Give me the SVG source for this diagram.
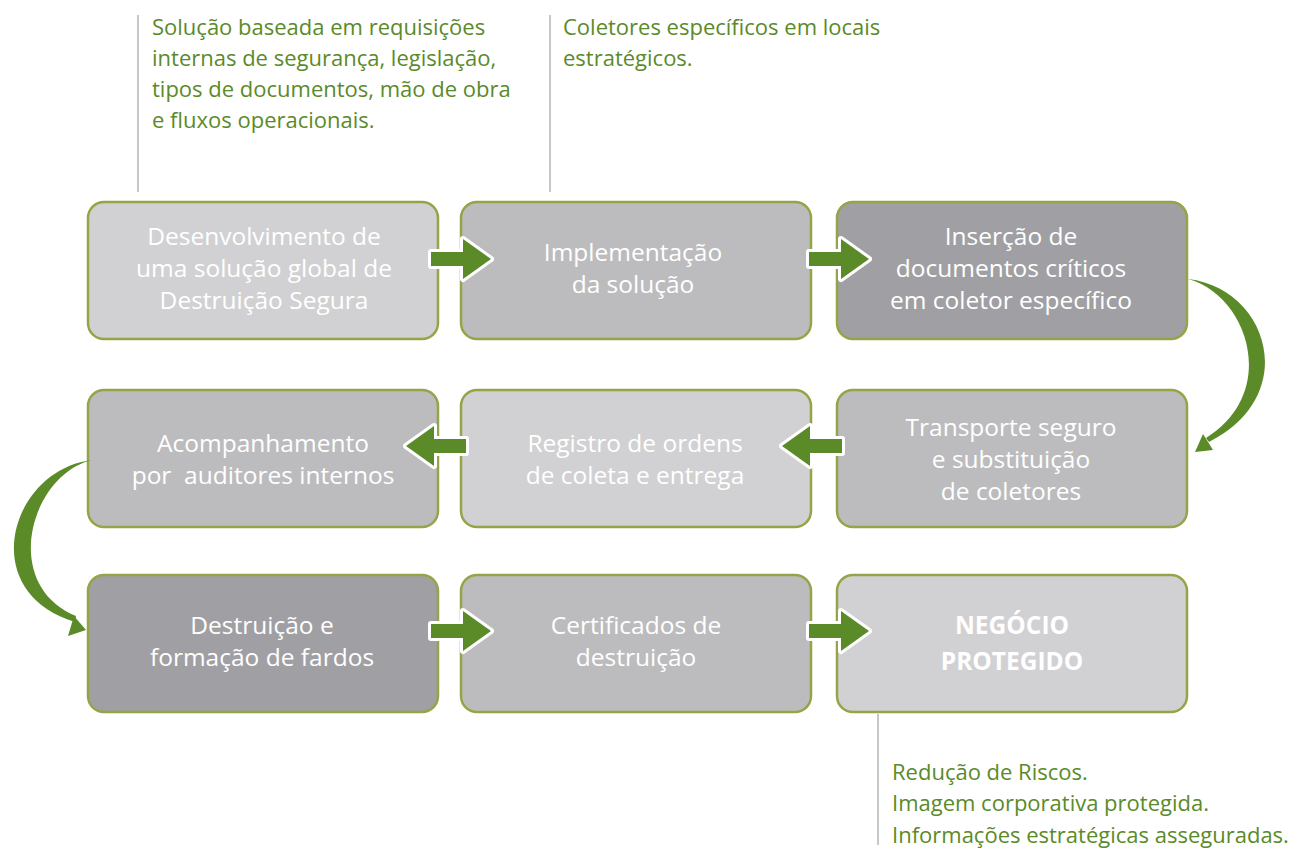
<svg xmlns="http://www.w3.org/2000/svg" width="1292" height="850" viewBox="0 0 1292 850">
<style>
.box{stroke:#93a547;stroke-width:2.5}
.l{fill:#d1d1d3}.m{fill:#bcbcbe}.d{fill:#a09fa3}
.bt{font-family:"Open Sans","Noto Sans",sans-serif;font-size:24.5px;fill:#ffffff;text-anchor:middle;white-space:pre}
.gt{font-family:"Open Sans","Noto Sans",sans-serif;font-size:22px;fill:#5b8a29}
.vl{stroke:#b5b5b5;stroke-width:1.5}
.ar{fill:#5b8a29;stroke:#ffffff;stroke-width:6;stroke-linejoin:round;paint-order:stroke}
.cv{fill:#5b8a29}
</style>
<rect width="1292" height="850" fill="#ffffff"/>
<g id="notes">
<line class="vl" x1="138" y1="15" x2="138" y2="192"/>
<line class="vl" x1="550" y1="15" x2="550" y2="192"/>
<line class="vl" x1="878" y1="714" x2="878" y2="845"/>
<text class="gt" x="152" y="35">Solução baseada em requisições</text>
<text class="gt" x="152" y="66">internas de segurança, legislação,</text>
<text class="gt" x="152" y="97">tipos de documentos, mão de obra</text>
<text class="gt" x="152" y="128">e fluxos operacionais.</text>
<text class="gt" x="563" y="35">Coletores específicos em locais</text>
<text class="gt" x="563" y="66">estratégicos.</text>
<text class="gt" x="892" y="780">Redução de Riscos.</text>
<text class="gt" x="892" y="811">Imagem corporativa protegida.</text>
<text class="gt" x="892" y="843">Informações estratégicas asseguradas.</text>
</g>
<g id="n1"><rect class="box l" x="88" y="202" width="350" height="137" rx="16"/>
<text class="bt" x="264" y="245">Desenvolvimento de</text><text class="bt" x="264" y="277">uma solução global de</text><text class="bt" x="264" y="309">Destruição Segura</text></g>
<g id="n2"><rect class="box m" x="461" y="202" width="350" height="137" rx="16"/>
<text class="bt" x="633" y="261">Implementação</text><text class="bt" x="633" y="293">da solução</text></g>
<g id="n3"><rect class="box d" x="837" y="202" width="350" height="137" rx="16"/>
<text class="bt" x="1011" y="245">Inserção de</text><text class="bt" x="1011" y="277">documentos críticos</text><text class="bt" x="1011" y="309">em coletor específico</text></g>
<g id="n4"><rect class="box m" x="88" y="390" width="350" height="137" rx="16"/>
<text class="bt" x="263" y="452">Acompanhamento</text><text class="bt" x="263" y="484" xml:space="preserve">por  auditores internos</text></g>
<g id="n5"><rect class="box l" x="461" y="390" width="350" height="137" rx="16"/>
<text class="bt" x="635" y="452">Registro de ordens</text><text class="bt" x="635" y="484">de coleta e entrega</text></g>
<g id="n6"><rect class="box m" x="837" y="390" width="350" height="137" rx="16"/>
<text class="bt" x="1011" y="436">Transporte seguro</text><text class="bt" x="1011" y="468">e substituição</text><text class="bt" x="1011" y="500">de coletores</text></g>
<g id="n7"><rect class="box d" x="88" y="575" width="350" height="137" rx="16"/>
<text class="bt" x="262" y="634">Destruição e</text><text class="bt" x="262" y="666">formação de fardos</text></g>
<g id="n8"><rect class="box m" x="461" y="575" width="350" height="137" rx="16"/>
<text class="bt" x="636" y="634">Certificados de</text><text class="bt" x="636" y="666">destruição</text></g>
<g id="n9"><rect class="box l" x="837" y="575" width="350" height="137" rx="16"/>
<text class="bt" x="1012" y="634" font-weight="bold">NEGÓCIO</text><text class="bt" x="1012" y="670" font-weight="bold">PROTEGIDO</text></g>
<g id="connectors">
<path class="ar" d="M431,252 h32 v-13 l28,20 l-28,20 v-13 h-32 z"/>
<path class="ar" d="M809,252 h32 v-13 l28,20 l-28,20 v-13 h-32 z"/>
<path class="ar" d="M466,439 h-32 v-13 l-28,20 l28,20 v-13 h32 z"/>
<path class="ar" d="M842,439 h-32 v-13 l-28,20 l28,20 v-13 h32 z"/>
<path class="ar" d="M431,624 h32 v-13 l28,20 l-28,20 v-13 h-32 z"/>
<path class="ar" d="M809,624 h32 v-13 l28,20 l-28,20 v-13 h-32 z"/>
<path class="cv" d="M1188,279 C1268,288 1302,395 1209,442 L1206,438 C1280,392 1248,295 1188,279 Z"/>
<path class="cv" d="M1195,452 L1203,434 L1213,450 Z"/>
<path class="cv" d="M92,460 C10,470 -25,592 75,622 L76,616 C0,585 30,475 92,460 Z"/>
<path class="cv" d="M86,630 L68,636 L74,616 Z"/>
</g>
</svg>
